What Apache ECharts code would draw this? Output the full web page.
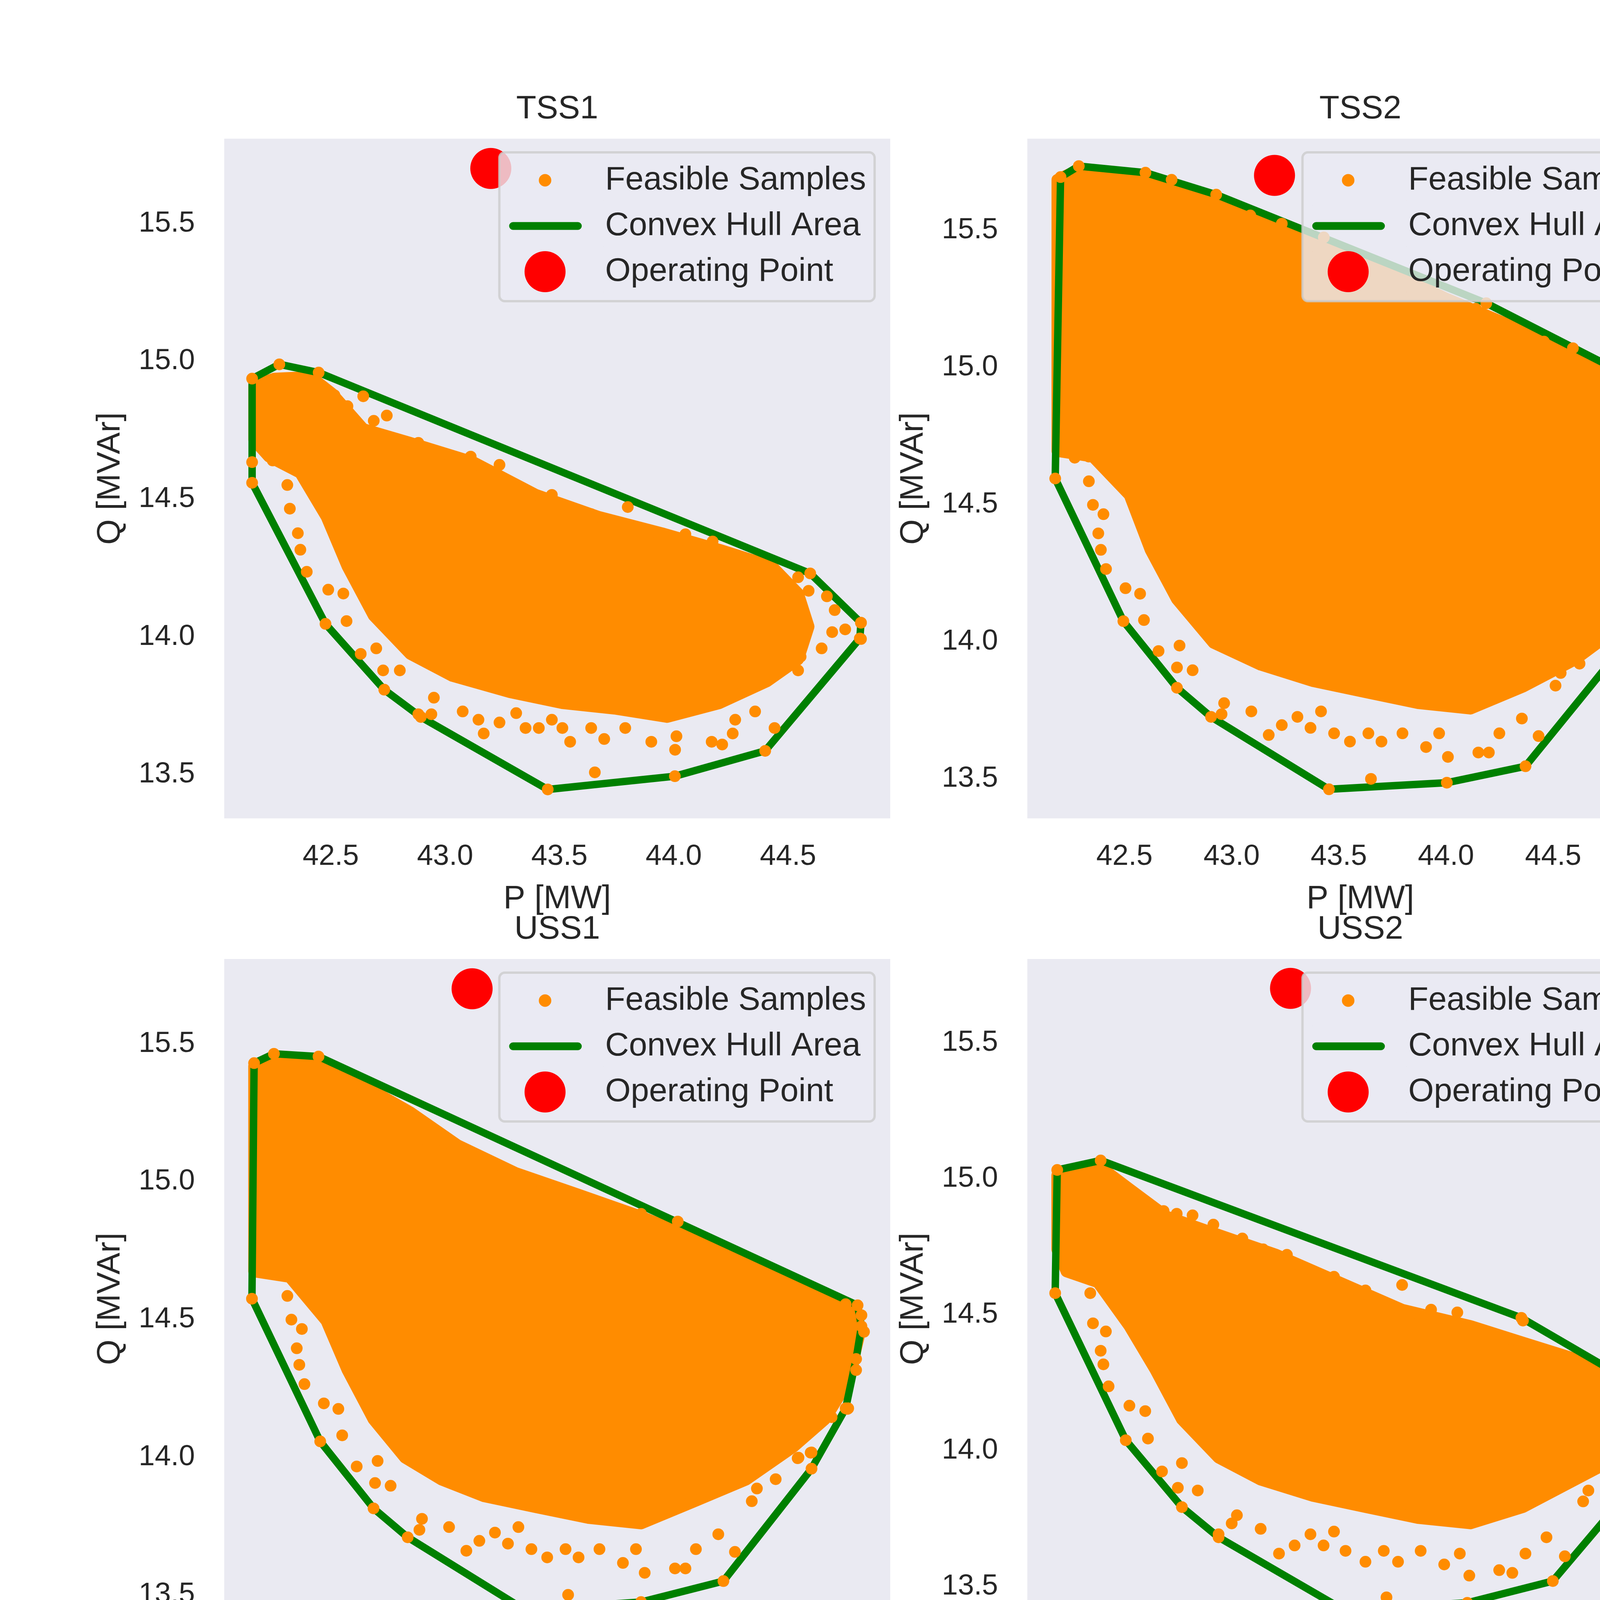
<!DOCTYPE html>
<html>
<head>
<meta charset="utf-8">
<title>Feasible operating regions</title>
<script src="https://cdn.jsdelivr.net/npm/echarts@6.0.0/dist/echarts.min.js"></script>
<style>
  html, body { margin: 0; padding: 0; background: #fff; }
  #chart { width: 6631px; height: 4689px; }
</style>
</head>
<body>
<div id="chart"></div>
<script>
// values, [P MW, Q MVAr]
const operatingPoint = [43.2, 15.7];

const pTicksTo445 = [42.5, 43.0, 43.5, 44.0, 44.5];
const pTicksTo450 = [42.5, 43.0, 43.5, 44.0, 44.5, 45.0];
const qTicksHalf = [13.5, 14.0, 14.5, 15.0, 15.5];
const qTicksWhole = [14, 15, 16, 17, 18];

// TSS1
const tss1Hull = [[42.156,14.937],[42.275,14.989],[42.447,14.959],[44.597,14.230],[44.819,14.051],[44.814,13.994],[44.400,13.586],[44.005,13.494],[43.449,13.446],[42.894,13.709],[42.734,13.808],[42.477,14.047],[42.156,14.559]];
const tss1Core = [[42.165,14.913],[42.253,14.937],[42.413,14.943],[42.505,14.883],[42.642,14.754],[42.848,14.704],[43.123,14.634],[43.398,14.515],[43.673,14.435],[43.948,14.376],[44.200,14.316],[44.429,14.256],[44.544,14.157],[44.590,14.037],[44.544,13.918],[44.407,13.838],[44.200,13.759],[43.971,13.709],[43.742,13.739],[43.513,13.759],[43.284,13.799],[43.032,13.858],[42.848,13.938],[42.688,14.077],[42.573,14.256],[42.482,14.435],[42.367,14.595],[42.230,14.654],[42.165,14.714]];
const tss1Samples = [[42.246,14.640],[42.310,14.551],[42.321,14.465],[42.356,14.376],[42.367,14.316],[42.395,14.236],[42.489,14.171],[42.555,14.157],[42.569,14.057],[42.631,13.938],[42.699,13.958],[42.729,13.878],[42.802,13.878],[42.883,13.719],[42.940,13.719],[42.951,13.779],[43.077,13.729],[43.146,13.699],[43.169,13.649],[43.238,13.689],[43.311,13.723],[43.352,13.669],[43.410,13.669],[43.467,13.699],[43.513,13.669],[43.547,13.619],[43.639,13.669],[43.655,13.508],[43.696,13.629],[43.788,13.669],[43.902,13.619],[44.006,13.590],[44.012,13.639],[44.166,13.619],[44.212,13.609],[44.258,13.649],[44.269,13.699],[44.356,13.729],[44.441,13.669],[44.384,13.838],[44.475,13.888],[44.544,13.878],[44.555,13.928],[44.647,13.958],[44.693,14.017],[44.750,14.027],[44.819,13.992],[44.819,14.051],[44.704,14.097],[44.670,14.147],[44.544,14.216],[44.590,14.167],[44.170,14.346],[44.051,14.372],[43.799,14.471],[43.639,14.445],[43.467,14.515],[43.238,14.624],[43.112,14.654],[42.883,14.704],[42.745,14.803],[42.688,14.784],[42.642,14.873],[42.573,14.837],[42.516,14.877],[42.156,14.634]];

// lower / left stragglers shared by TSS2, USS1 and the unaltered model
const lowerSamples = [[42.268,14.671],[42.334,14.675],[42.334,14.585],[42.353,14.499],[42.402,14.465],[42.378,14.395],[42.390,14.335],[42.414,14.265],[42.505,14.195],[42.573,14.175],[42.591,14.079],[42.659,13.966],[42.745,13.906],[42.818,13.896],[42.757,13.986],[42.953,13.736],[42.965,13.776],[43.092,13.746],[43.173,13.660],[43.234,13.696],[43.307,13.726],[43.368,13.686],[43.417,13.746],[43.478,13.666],[43.552,13.636],[43.638,13.666],[43.650,13.500],[43.699,13.636],[43.797,13.666],[43.907,13.616],[43.968,13.666],[44.009,13.580],[44.151,13.596],[44.200,13.596],[44.249,13.666],[44.354,13.720],[44.432,13.656],[44.511,13.840],[44.535,13.886],[44.623,13.920],[44.726,13.996],[44.787,14.016],[44.799,14.115],[44.885,14.145],[44.959,14.175]];

// TSS2
const tss2Hull = [[42.202,15.694],[42.287,15.734],[42.598,15.710],[42.928,15.630],[44.188,15.234],[44.812,14.985],[44.995,14.885],[45.015,14.675],[45.015,14.455],[44.954,14.179],[44.787,13.946],[44.371,13.546],[44.004,13.486],[43.454,13.462],[42.904,13.726],[42.745,13.832],[42.495,14.075],[42.177,14.595]];
const tss2Core = [[42.187,15.684],[42.280,15.718],[42.598,15.698],[42.916,15.624],[43.258,15.514],[43.625,15.394],[43.992,15.254],[44.359,15.134],[44.604,15.044],[44.799,14.965],[45.020,14.875],[45.032,14.655],[45.020,14.455],[44.971,14.295],[44.922,14.155],[44.775,14.035],[44.604,13.936],[44.359,13.836],[44.114,13.756],[43.870,13.776],[43.625,13.816],[43.381,13.856],[43.136,13.916],[42.916,13.996],[42.745,14.155],[42.622,14.335],[42.524,14.535],[42.353,14.675],[42.187,14.695]];
const tss2Upper = [[44.971,14.395],[45.039,14.675],[45.032,14.825],[44.592,15.070],[44.457,15.094],[44.310,15.124],[44.139,15.214],[43.772,15.304],[43.650,15.364],[43.430,15.474],[43.234,15.524],[43.087,15.554],[42.720,15.684]];

// TSS3
const tss3Hull = [[42.208,15.760],[42.420,16.540],[42.613,16.940],[43.529,17.900],[43.987,17.992],[44.168,17.900],[44.409,17.752],[44.976,17.320],[45.005,17.260],[45.005,14.340],[44.976,14.200],[44.928,14.080],[44.771,13.880],[44.361,13.480],[44.012,13.448],[43.493,13.520],[42.927,13.800],[42.529,14.180],[42.199,14.680]];
const tss3Core = [[42.199,15.720],[42.228,15.840],[42.396,16.400],[42.613,16.880],[42.927,17.360],[43.264,17.680],[43.626,17.860],[43.987,17.920],[44.229,17.840],[44.590,17.640],[45.000,17.280],[45.012,14.320],[44.940,14.080],[44.759,13.920],[44.349,13.640],[43.987,13.640],[43.626,13.700],[43.264,13.800],[42.927,13.920],[42.662,14.200],[42.420,14.480],[42.228,14.760],[42.199,15.040]];
const tss3Samples = [[42.288,14.760],[42.372,14.600],[42.408,14.480],[42.445,14.360],[42.541,14.280],[42.618,14.160],[42.686,14.040],[42.770,13.960],[42.854,13.980],[42.963,13.860],[43.120,13.800],[43.192,13.760],[43.264,13.740],[43.337,13.780],[43.373,13.700],[43.481,13.740],[43.578,13.660],[43.669,13.520],[43.674,13.700],[43.819,13.680],[43.903,13.580],[43.987,13.560],[44.024,13.640],[44.096,13.640],[44.151,13.560],[44.204,13.580],[44.277,13.640],[44.361,13.700],[44.433,13.600],[44.506,13.760],[44.626,13.800],[44.711,13.920],[44.783,13.880],[44.855,14.040],[44.940,14.080],[44.988,14.220],[45.012,14.520],[45.019,17.240],[44.879,17.400],[44.602,17.620],[44.421,17.760],[44.168,17.880],[43.975,17.900],[43.891,17.920],[43.746,17.840],[43.554,17.920],[43.071,17.480],[42.830,17.100],[42.661,16.920],[42.541,16.560],[42.445,16.360],[42.372,16.160],[42.276,15.880]];

// USS1
const uss1Hull = [[42.178,15.430],[42.271,15.464],[42.480,15.454],[45.007,14.551],[45.025,14.475],[45.000,14.356],[44.951,14.177],[44.791,13.958],[44.378,13.550],[43.992,13.474],[43.446,13.446],[42.898,13.709],[42.738,13.814],[42.488,14.057],[42.168,14.575]];
const uss1Core = [[42.178,15.420],[42.271,15.450],[42.468,15.440],[42.640,15.371],[42.911,15.251],[43.132,15.132],[43.402,15.032],[43.697,14.953],[43.992,14.873],[44.238,14.794],[44.484,14.714],[44.730,14.634],[45.000,14.545],[45.012,14.435],[44.963,14.276],[44.853,14.137],[44.705,14.037],[44.484,13.918],[44.238,13.838],[43.992,13.759],[43.746,13.779],[43.500,13.818],[43.255,13.858],[43.058,13.918],[42.886,13.998],[42.738,14.137],[42.616,14.316],[42.517,14.495],[42.345,14.654],[42.178,14.674]];
const uss1Upper = [[42.909,15.231],[42.983,15.152],[43.056,15.112],[43.130,15.062],[43.253,15.042],[43.400,15.002],[43.573,14.963],[43.634,14.937],[43.992,14.883],[44.164,14.855],[44.090,14.803],[44.238,14.784],[44.385,14.734],[44.570,14.654],[44.951,14.555],[45.025,14.515],[45.037,14.455],[45.000,14.316],[44.963,14.177],[44.791,14.017],[44.730,13.998]];

// USS2
const uss2Hull = [[42.169,15.032],[42.361,15.067],[44.220,14.488],[44.831,14.192],[44.850,14.165],[44.769,13.923],[44.359,13.520],[43.981,13.440],[43.433,13.415],[42.882,13.681],[42.720,13.792],[42.472,14.038],[42.160,14.579]];
const uss2Core = [[42.169,15.012],[42.361,15.042],[42.488,14.962],[42.651,14.861],[42.859,14.800],[43.137,14.720],[43.415,14.619],[43.693,14.518],[43.995,14.458],[44.227,14.397],[44.458,14.337],[44.644,14.256],[44.806,14.175],[44.760,14.054],[44.644,13.974],[44.458,13.893],[44.227,13.792],[43.995,13.732],[43.763,13.752],[43.531,13.792],[43.300,13.833],[43.068,13.893],[42.882,13.974],[42.720,14.115],[42.604,14.296],[42.488,14.458],[42.349,14.619],[42.210,14.659],[42.169,14.740]];
const uss2Samples = [[42.257,14.649],[42.315,14.659],[42.315,14.579],[42.327,14.468],[42.384,14.438],[42.361,14.367],[42.373,14.317],[42.396,14.236],[42.488,14.165],[42.558,14.145],[42.570,14.044],[42.632,13.923],[42.702,13.863],[42.790,13.853],[42.720,13.954],[42.882,13.692],[42.940,13.732],[42.963,13.762],[43.068,13.712],[43.149,13.621],[43.218,13.651],[43.288,13.692],[43.346,13.651],[43.392,13.702],[43.443,13.631],[43.531,13.591],[43.612,13.631],[43.624,13.460],[43.675,13.591],[43.775,13.631],[43.879,13.581],[43.948,13.621],[43.990,13.540],[44.122,13.560],[44.180,13.550],[44.238,13.621],[44.331,13.681],[44.412,13.611],[44.493,13.813],[44.516,13.853],[44.609,13.893],[44.725,13.964],[44.771,13.923],[44.771,13.994],[44.783,14.075],[44.864,14.165],[44.829,14.192],[44.227,14.478],[43.937,14.508],[43.821,14.518],[43.693,14.609],[43.531,14.589],[43.392,14.639],[43.265,14.669],[43.184,14.720],[43.079,14.740],[42.987,14.780],[42.859,14.831],[42.767,14.865],[42.697,14.871],[42.639,14.881],[42.512,14.942]];

// Unaltered model
const unalteredHull = [[42.201,15.700],[42.262,15.777],[42.324,15.823],[42.373,15.825],[44.589,15.142],[45.005,14.971],[45.012,14.704],[45.012,14.444],[44.956,14.173],[44.785,13.944],[44.368,13.548],[44.001,13.485],[43.457,13.460],[42.899,13.725],[42.740,13.833],[42.490,14.079],[42.172,14.596]];
const unalteredCore = [[42.182,15.683],[42.250,15.767],[42.348,15.813],[42.642,15.756],[43.009,15.652],[43.377,15.538],[43.744,15.413],[44.111,15.277],[44.478,15.163],[44.723,15.069],[45.017,14.954],[45.029,14.704],[45.017,14.454],[44.968,14.288],[44.907,14.163],[44.772,14.038],[44.601,13.933],[44.356,13.840],[44.111,13.767],[43.866,13.777],[43.621,13.819],[43.377,13.860],[43.132,13.923],[42.911,13.996],[42.740,14.163],[42.618,14.350],[42.520,14.538],[42.348,14.694],[42.182,14.704]];
const unalteredUpper = [[42.336,15.819],[42.642,15.767],[42.740,15.735],[43.071,15.600],[43.291,15.548],[43.413,15.475],[43.695,15.371],[43.891,15.319],[44.136,15.246],[44.221,15.225],[44.429,15.152],[44.589,15.150],[44.552,15.100],[44.956,14.996],[45.029,14.954],[45.037,14.829],[45.037,14.663],[45.037,14.454],[44.993,14.308],[44.963,14.173],[44.797,14.121],[44.797,14.017]];

const ORANGE = '#FF8C00';
const GREEN = '#008000';
const RED = '#FF0000';
const INK = '#262626';
const PANEL_BG = '#EAEAF2';
const FONT = '"Liberation Sans", Arial, Helvetica, sans-serif';

const colLefts = [574, 2630, 4686];
const rowTops = [355, 2455];
const plotW = 1705;
const plotH = 1740;
const pageW = 6631;

// legend icons share one 241x105 box (two tiny corner marks fix the box)
const ICON_BOX = 'M0 0h0.2v0.2h-0.2z M240.8 104.8h0.2v0.2h-0.2z ';
const ICON_DOT = 'path://' + ICON_BOX + 'M76 52.5a16 16 0 1 0 32 0a16 16 0 1 0 -32 0z';
const ICON_LINE = 'path://' + ICON_BOX + 'M10 42.5h166a10 10 0 0 1 0 20h-166a10 10 0 0 1 0 -20z';
const ICON_OP = 'path://' + ICON_BOX + 'M39.5 52.5a52.5 52.5 0 1 0 105 0a52.5 52.5 0 1 0 -105 0z';

const panels = [
  { title: 'TSS1', col: 0, row: 0, hull: tss1Hull, core: tss1Core, samples: tss1Samples,
    pMin: 42.034, pMax: 44.947, qMin: 13.341, qMax: 15.808, pTicks: pTicksTo445, qTicks: qTicksHalf, qDigits: 1, qGap: 249, legendSide: 'right' },
  { title: 'TSS2', col: 1, row: 0, hull: tss2Hull, core: tss2Core, samples: lowerSamples.concat(tss2Upper),
    pMin: 42.047, pMax: 45.154, qMin: 13.356, qMax: 15.834, pTicks: pTicksTo450, qTicks: qTicksHalf, qDigits: 1, qGap: 249, legendSide: 'right' },
  { title: 'TSS3', col: 2, row: 0, hull: tss3Hull, core: tss3Core, samples: tss3Samples,
    pMin: 42.071, pMax: 45.137, qMin: 13.24, qMax: 18.2, pTicks: pTicksTo450, qTicks: qTicksWhole, qDigits: 0, qGap: 184, legendSide: 'left' },
  { title: 'USS1', col: 0, row: 1, hull: uss1Hull, core: uss1Core, samples: lowerSamples.concat(uss1Upper),
    pMin: 42.038, pMax: 45.160, qMin: 13.341, qMax: 15.808, pTicks: pTicksTo450, qTicks: qTicksHalf, qDigits: 1, qGap: 249, legendSide: 'right' },
  { title: 'USS2', col: 1, row: 1, hull: uss2Hull, core: uss2Core, samples: uss2Samples,
    pMin: 42.037, pMax: 44.980, qMin: 13.308, qMax: 15.808, pTicks: pTicksTo445, qTicks: qTicksHalf, qDigits: 1, qGap: 249, legendSide: 'right' },
  { title: 'Unaltered Model', col: 2, row: 1, hull: unalteredHull, core: unalteredCore, samples: lowerSamples.concat(unalteredUpper),
    pMin: 42.042, pMax: 45.157, qMin: 13.35, qMax: 15.933, pTicks: pTicksTo450, qTicks: qTicksHalf, qDigits: 1, qGap: 249, legendSide: 'right' }
];

const option = {
  animation: false,
  backgroundColor: '#ffffff',
  textStyle: { fontFamily: FONT },
  title: [], legend: [], grid: [], xAxis: [], yAxis: [], series: []
};

panels.forEach(function (pn, i) {
  const left = colLefts[pn.col];
  const top = rowTops[pn.row];

  option.grid.push({
    left: left, top: top, width: plotW, height: plotH,
    show: true, backgroundColor: PANEL_BG, borderWidth: 0, outerBoundsMode: 'none'
  });

  option.title.push({
    text: pn.title, left: left + plotW / 2, top: top - 117, textAlign: 'center', padding: 0,
    textStyle: { fontSize: 84, fontWeight: 'normal', color: INK, fontFamily: FONT }
  });

  const legend = {
    orient: 'vertical', top: top + 35,
    data: [
      { name: 'Feasible Samples', icon: ICON_DOT },
      { name: 'Convex Hull Area', icon: ICON_LINE },
      { name: 'Operating Point', icon: ICON_OP }
    ],
    itemWidth: 241, itemHeight: 105, itemGap: 12,
    padding: [19, 22, 23, 25],
    backgroundColor: 'rgba(234,234,242,0.8)',
    borderColor: 'rgba(204,204,204,0.8)', borderWidth: 6, borderRadius: 14,
    itemStyle: { borderWidth: 0, opacity: 1 },
    textStyle: { fontSize: 84, color: INK, fontFamily: FONT },
    selectedMode: false
  };
  if (pn.legendSide === 'right') legend.right = pageW - (left + plotW - 40);
  else legend.left = left + 38;
  option.legend.push(legend);

  option.xAxis.push({
    type: 'value', gridIndex: i, min: pn.pMin, max: pn.pMax,
    axisLine: { show: false }, axisTick: { show: false }, splitLine: { show: false },
    axisLabel: {
      customValues: pn.pTicks, fontSize: 74, color: INK, margin: 62, fontFamily: FONT,
      formatter: function (v) { return Number(v).toFixed(1); }
    },
    name: 'P [MW]', nameLocation: 'middle', nameGap: 165,
    nameTextStyle: { fontSize: 84, color: INK, fontFamily: FONT }
  });

  option.yAxis.push({
    type: 'value', gridIndex: i, min: pn.qMin, max: pn.qMax,
    axisLine: { show: false }, axisTick: { show: false }, splitLine: { show: false },
    axisLabel: {
      customValues: pn.qTicks, fontSize: 74, color: INK, margin: 75, fontFamily: FONT,
      formatter: function (v) { return Number(v).toFixed(pn.qDigits); }
    },
    name: 'Q [MVAr]', nameLocation: 'middle', nameGap: pn.qGap,
    nameTextStyle: { fontSize: 84, color: INK, fontFamily: FONT }
  });

  // the solid part of the cloud where the dots merge
  option.series.push({
    type: 'custom', name: 'Feasible Samples (dense)', xAxisIndex: i, yAxisIndex: i,
    clip: true, silent: true, z: 1, data: [pn.core[0]],
    renderItem: function (params, api) {
      return {
        type: 'polygon',
        shape: { points: pn.core.map(function (p) { return api.coord(p); }) },
        style: { fill: ORANGE, stroke: ORANGE, lineWidth: 30, lineJoin: 'round' }
      };
    }
  });

  option.series.push({
    type: 'scatter', name: 'Feasible Samples', xAxisIndex: i, yAxisIndex: i,
    symbolSize: 30, itemStyle: { color: ORANGE, opacity: 1 }, silent: true, z: 2,
    data: pn.samples.concat(pn.hull)
  });

  option.series.push({
    type: 'line', name: 'Convex Hull Area', xAxisIndex: i, yAxisIndex: i,
    symbol: 'none', showSymbol: false, silent: true, z: 2,
    itemStyle: { color: GREEN },
    lineStyle: { color: GREEN, width: 19, join: 'round', opacity: 1 },
    data: pn.hull.concat([pn.hull[0]])
  });

  option.series.push({
    type: 'scatter', name: 'Operating Point', xAxisIndex: i, yAxisIndex: i,
    symbolSize: 105, itemStyle: { color: RED, opacity: 1 }, silent: true, z: 3,
    data: [operatingPoint]
  });
});

const chart = echarts.init(document.getElementById('chart'), null, { renderer: 'canvas' });
chart.setOption(option);
</script>
</body>
</html>
